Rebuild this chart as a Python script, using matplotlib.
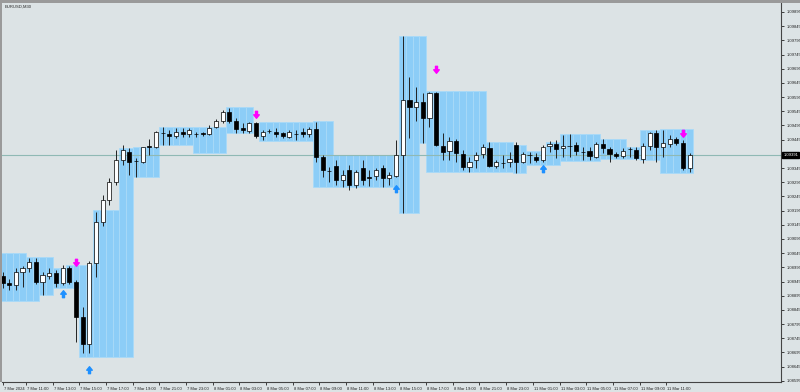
import matplotlib
matplotlib.use("Agg")
import matplotlib.pyplot as plt
import matplotlib.transforms as mtransforms
from matplotlib.path import Path
from matplotlib.patches import Rectangle
import numpy as np

# EURUSD M30 bars (open, high, low, close)
opens = [1.08965, 1.08940, 1.08933, 1.08979, 1.08993, 1.09014, 1.08943, 1.08965, 1.08975, 1.08940,
         1.08993, 1.08943, 1.08820, 1.08725, 1.09010, 1.09155, 1.09232, 1.09296, 1.09373, 1.09401,
         1.09370, 1.09366, 1.09423, 1.09419, 1.09468, 1.09465, 1.09458, 1.09472, 1.09465, 1.09465,
         1.09468, 1.09465, 1.09490, 1.09511, 1.09542, 1.09511, 1.09486, 1.09475, 1.09504, 1.09458,
         1.09475, 1.09472, 1.09468, 1.09454, 1.09465, 1.09472, 1.09465, 1.09483, 1.09384, 1.09334,
         1.09352, 1.09303, 1.09338, 1.09285, 1.09345, 1.09313, 1.09317, 1.09345, 1.09310, 1.09317,
         1.09391, 1.09585, 1.09560, 1.09578, 1.09521, 1.09609, 1.09423, 1.09405, 1.09440, 1.09394,
         1.09349, 1.09373, 1.09394, 1.09416, 1.09352, 1.09363, 1.09366, 1.09426, 1.09366, 1.09391,
         1.09384, 1.09373, 1.09423, 1.09430, 1.09416, 1.09423, 1.09426, 1.09401, 1.09405, 1.09384,
         1.09430, 1.09412, 1.09394, 1.09387, 1.09412, 1.09409, 1.09377, 1.09423, 1.09468, 1.09419,
         1.09430, 1.09447, 1.09433, 1.09345]
highs = [1.08979, 1.08954, 1.08993, 1.09000, 1.09028, 1.09028, 1.08979, 1.08993, 1.08986, 1.09003,
         1.09000, 1.08950, 1.08855, 1.09017, 1.09190, 1.09250, 1.09310, 1.09409, 1.09426, 1.09416,
         1.09380, 1.09419, 1.09447, 1.09475, 1.09490, 1.09479, 1.09486, 1.09486, 1.09486, 1.09472,
         1.09472, 1.09497, 1.09518, 1.09549, 1.09556, 1.09521, 1.09504, 1.09507, 1.09507, 1.09479,
         1.09483, 1.09486, 1.09472, 1.09479, 1.09479, 1.09486, 1.09490, 1.09507, 1.09391, 1.09349,
         1.09373, 1.09338, 1.09356, 1.09338, 1.09373, 1.09338, 1.09345, 1.09356, 1.09331, 1.09444,
         1.09810, 1.09666, 1.09630, 1.09609, 1.09613, 1.09613, 1.09468, 1.09454, 1.09447, 1.09409,
         1.09384, 1.09401, 1.09430, 1.09437, 1.09373, 1.09391, 1.09401, 1.09437, 1.09401, 1.09401,
         1.09398, 1.09426, 1.09440, 1.09444, 1.09461, 1.09465, 1.09437, 1.09419, 1.09419, 1.09437,
         1.09447, 1.09419, 1.09401, 1.09416, 1.09419, 1.09419, 1.09433, 1.09472, 1.09479, 1.09479,
         1.09461, 1.09454, 1.09444, 1.09398]
lows = [1.08922, 1.08915, 1.08915, 1.08926, 1.08979, 1.08936, 1.08898, 1.08954, 1.08926, 1.08933,
        1.08936, 1.08732, 1.08693, 1.08693, 1.08961, 1.09141, 1.09215, 1.09285, 1.09356, 1.09320,
        1.09313, 1.09363, 1.09391, 1.09416, 1.09426, 1.09426, 1.09451, 1.09454, 1.09454, 1.09454,
        1.09458, 1.09461, 1.09486, 1.09504, 1.09504, 1.09468, 1.09468, 1.09468, 1.09451, 1.09444,
        1.09468, 1.09454, 1.09451, 1.09451, 1.09444, 1.09454, 1.09454, 1.09366, 1.09313, 1.09296,
        1.09285, 1.09278, 1.09268, 1.09275, 1.09285, 1.09282, 1.09303, 1.09278, 1.09285, 1.09313,
        1.09187, 1.09451, 1.09511, 1.09433, 1.09490, 1.09423, 1.09373, 1.09373, 1.09366, 1.09338,
        1.09331, 1.09345, 1.09380, 1.09349, 1.09345, 1.09345, 1.09349, 1.09327, 1.09363, 1.09363,
        1.09366, 1.09366, 1.09401, 1.09380, 1.09384, 1.09384, 1.09391, 1.09373, 1.09373, 1.09380,
        1.09398, 1.09366, 1.09380, 1.09380, 1.09384, 1.09373, 1.09363, 1.09409, 1.09366, 1.09384,
        1.09419, 1.09426, 1.09338, 1.09331]
closes = [1.08940, 1.08933, 1.08979, 1.08993, 1.09014, 1.08943, 1.08968, 1.08975, 1.08940, 1.08993,
          1.08943, 1.08820, 1.08725, 1.09010, 1.09155, 1.09232, 1.09296, 1.09373, 1.09409, 1.09366,
          1.09368, 1.09419, 1.09419, 1.09472, 1.09468, 1.09458, 1.09472, 1.09465, 1.09479, 1.09465,
          1.09465, 1.09486, 1.09511, 1.09542, 1.09511, 1.09483, 1.09479, 1.09504, 1.09458, 1.09472,
          1.09475, 1.09465, 1.09458, 1.09472, 1.09465, 1.09465, 1.09483, 1.09384, 1.09338, 1.09334,
          1.09303, 1.09320, 1.09285, 1.09331, 1.09303, 1.09310, 1.09338, 1.09310, 1.09320, 1.09391,
          1.09585, 1.09560, 1.09578, 1.09521, 1.09609, 1.09426, 1.09401, 1.09440, 1.09398, 1.09349,
          1.09366, 1.09391, 1.09419, 1.09352, 1.09366, 1.09363, 1.09377, 1.09366, 1.09394, 1.09391,
          1.09373, 1.09419, 1.09430, 1.09412, 1.09423, 1.09423, 1.09405, 1.09401, 1.09387, 1.09430,
          1.09416, 1.09394, 1.09387, 1.09405, 1.09412, 1.09380, 1.09423, 1.09468, 1.09419, 1.09433,
          1.09447, 1.09433, 1.09345, 1.09391]

# range boxes: first bar, last bar, top, bottom
box_start = [0, 4, 6, 8, 10, 12, 14, 18, 20, 24, 29, 34, 39, 47, 50, 60, 63, 64, 73, 77, 79, 82, 84, 90, 94, 96, 99]
box_end = [3, 5, 7, 9, 11, 13, 17, 19, 23, 28, 33, 37, 46, 49, 59, 62, 63, 72, 76, 78, 81, 83, 89, 93, 95, 98, 103]
box_top = [1.09046, 1.09031, 1.09031, 1.08993, 1.09003, 1.09003, 1.09197, 1.09416, 1.09419, 1.09490,
           1.09490, 1.09560, 1.09507, 1.09511, 1.09391, 1.09810, 1.09810, 1.09616, 1.09437, 1.09426,
           1.09405, 1.09437, 1.09465, 1.09447, 1.09419, 1.09479, 1.09483]
box_bot = [1.08876, 1.08876, 1.08898, 1.08922, 1.08922, 1.08679, 1.08679, 1.08679, 1.09313, 1.09426,
           1.09398, 1.09468, 1.09440, 1.09278, 1.09278, 1.09187, 1.09433, 1.09331, 1.09331, 1.09327,
           1.09356, 1.09356, 1.09370, 1.09377, 1.09377, 1.09373, 1.09327]

# signal arrows
sell_idx = [11, 38, 65, 102]
sell_price = [1.09010, 1.09532, 1.09690, 1.09465]
buy_idx = [9, 13, 59, 81]
buy_price = [1.08905, 1.08637, 1.09275, 1.09345]

xlabels = ['7 Mar 2024', '7 Mar 11:00', '7 Mar 13:00', '7 Mar 15:00', '7 Mar 17:00', '7 Mar 19:00',
           '7 Mar 21:00', '7 Mar 23:00', '8 Mar 01:00', '8 Mar 03:00', '8 Mar 05:00', '8 Mar 07:00',
           '8 Mar 09:00', '8 Mar 11:00', '8 Mar 13:00', '8 Mar 15:00', '8 Mar 17:00', '8 Mar 19:00',
           '8 Mar 21:00', '8 Mar 23:00', '11 Mar 01:00', '11 Mar 03:00', '11 Mar 05:00',
           '11 Mar 07:00', '11 Mar 09:00', '11 Mar 11:00']

bg = '#dce3e5'
plt.rcParams['font.family'] = ['Liberation Sans', 'DejaVu Sans']

fig = plt.figure(figsize=(8, 3.92), dpi=100, facecolor=bg)
ax = fig.add_axes([2 / 800, 10 / 392, 779 / 800, 380 / 392])
ax.set_facecolor(bg)

o = np.array(opens)
h = np.array(highs)
l = np.array(lows)
c = np.array(closes)
x = np.arange(len(o))

# range boxes, one column per bar
bx, btop, bbot = [], [], []
for s, e, t, b in zip(box_start, box_end, box_top, box_bot):
    for i in range(s, e + 1):
        bx.append(i)
        btop.append(t)
        bbot.append(b)
bx = np.array(bx)
btop = np.array(btop)
bbot = np.array(bbot)
ax.bar(bx, btop - bbot, bottom=bbot, width=1.0, color='#8ccdf7', edgecolor='#a9daf8',
       linewidth=0.6, zorder=1)

# current price line
last = c[-1]
ax.axhline(last, color='#8fb9b4', linewidth=0.8, zorder=2)

# candles
ax.vlines(x, l, h, color='#222222', linewidth=0.7, zorder=3)
up = c >= o
body_lo = np.minimum(o, c)
body_h = np.abs(c - o)
ax.bar(x[up], body_h[up], bottom=body_lo[up], width=0.62, color='white', edgecolor='black',
       linewidth=0.5, zorder=4)
ax.bar(x[~up], body_h[~up], bottom=body_lo[~up], width=0.62, color='black', edgecolor='black',
       linewidth=0.5, zorder=4)

# arrows
down_arrow = Path([(-0.22, 0.9), (0.22, 0.9), (0.22, 0.15), (0.6, 0.15), (0, -0.6), (-0.6, 0.15),
                   (-0.22, 0.15), (-0.22, 0.9)],
                  [Path.MOVETO] + [Path.LINETO] * 6 + [Path.CLOSEPOLY])
up_arrow = Path([(vx, -vy) for vx, vy in down_arrow.vertices], down_arrow.codes)
ax.plot(sell_idx, sell_price, linestyle='none', marker=down_arrow, markersize=6,
        color='#ff00ff', zorder=5)
ax.plot(buy_idx, buy_price, linestyle='none', marker=up_arrow, markersize=6,
        color='#1e90ff', zorder=5)

ax.set_xlim(-0.08, 116.7)
ax.set_ylim(1.08591, 1.09930)

# price axis on the right
yt = [round(1.08595 + 0.0005 * k, 5) for k in range(27)]
yt = [v for v in yt if abs(v - last) > 0.0002]
ax.yaxis.tick_right()
ax.set_yticks(yt)
ax.set_yticklabels(['%.5f' % v for v in yt])
ax.tick_params(axis='y', length=2.5, width=0.6, labelsize=3, pad=1.5, colors='#222222')

xt = [max(4 * k - 0.5, 0.0) for k in range(len(xlabels))]
ax.set_xticks(xt)
ax.set_xticklabels(xlabels, ha='left')
ax.tick_params(axis='x', length=2.5, width=0.6, labelsize=3, pad=1.0, colors='#222222')
for lab in ax.get_xticklabels():
    lab.set_transform(lab.get_transform() + mtransforms.ScaledTranslation(1 / 100, 0, fig.dpi_scale_trans))

for side in ['top', 'left']:
    ax.spines[side].set_visible(False)
ax.spines['right'].set_color('#444444')
ax.spines['bottom'].set_color('#444444')
ax.spines['right'].set_linewidth(0.8)
ax.spines['bottom'].set_linewidth(0.8)

# price tag
trans = mtransforms.blended_transform_factory(ax.transAxes, ax.transData)
ax.text(1.003, last, '%.5f' % last, transform=trans, fontsize=3, color='white', va='center',
        ha='left', bbox=dict(boxstyle='square,pad=0.25', facecolor='black', edgecolor='black'),
        clip_on=False, zorder=6)

# window frame
fig.patches.append(Rectangle((0, 1 - 2.5 / 392), 1, 2.5 / 392, transform=fig.transFigure,
                             facecolor='#9a9a9a', edgecolor='none'))
fig.patches.append(Rectangle((0, 10 / 392), 2 / 800, 1 - 12 / 392, transform=fig.transFigure,
                             facecolor='#9a9a9a', edgecolor='none'))

fig.text(5 / 800, 1 - 7 / 392, 'EURUSD,M30', fontsize=3, color='#222222', va='center', ha='left')

fig.savefig('out.png', dpi=100, facecolor=bg)
